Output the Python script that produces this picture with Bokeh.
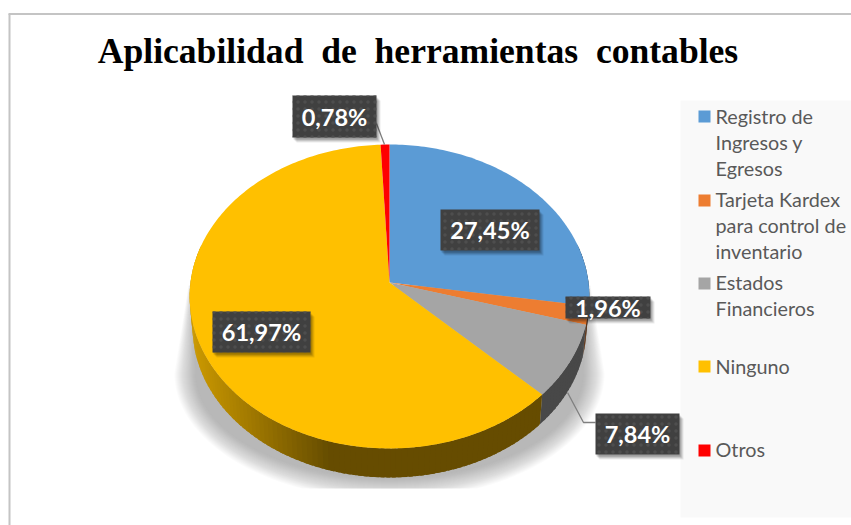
import numpy as np
from bokeh.plotting import figure
from bokeh.models import Range1d
from bokeh.core.properties import value
from bokeh.embed import file_html
from bokeh.resources import INLINE

title = "Aplicabilidad\u00a0 de\u00a0 herramientas\u00a0 contables"
categories = ["Registro de Ingresos y Egresos", "Tarjeta Kardex para control de inventario",
              "Estados Financieros", "Ninguno", "Otros"]
values = [27.45, 1.96, 7.84, 61.97, 0.78]
colors = ["#5B9BD5", "#ED7D31", "#A5A5A5", "#FFC000", "#FF0000"]
legend_lines = [["Registro de", "Ingresos y", "Egresos"],
                ["Tarjeta Kardex", "para control de", "inventario"],
                ["Estados", "Financieros"], ["Ninguno"], ["Otros"]]

W, H = 851, 525
p = figure(width=W, height=H, x_range=Range1d(0, W), y_range=Range1d(H, 0),
           toolbar_location=None, output_backend="svg", min_border=0,
           background_fill_color="white", border_fill_color="white", outline_line_color=None)
p.axis.visible = False
p.grid.visible = False

# page frame
p.segment([9, 8], [525, 13.5], [9, 851], [13.5, 13.5], line_color="#c4c4c4", line_width=2)
p.patch([680, 851, 851, 680], [100, 100, 517, 517], fill_color="#F9F9F9", line_color=None)

# tilted-disc projection
CX, CY, A, B, K = 389.0, 282.0, 199.0, 150.7, 0.092
DEPTH, LOW = 31.5, 0.985

def proj(theta_deg, scale=1.0, dy=0.0):
    t = np.radians(theta_deg)
    u, v = np.sin(t), -np.cos(t)
    d = 1 - K * v
    return CX + scale * A * u / d, CY + dy + scale * B * v / d

# soft shadow
for g in range(0, 22):
    th = np.linspace(180, 0, 80)
    rx, ry = 215 - g * 1.0, 126 - g * 1.0
    ex = 389 + rx * np.cos(np.radians(th))
    ey = 373 + ry * np.sin(np.radians(th))
    ey = np.minimum(ey, 488)
    sx = np.r_[188 + g * 0.25, ex, 590 - g * 0.25]
    sy = np.r_[285, ey, 285]
    p.patch(sx, sy, fill_color="#808080", fill_alpha=0.03, line_color=None)

# side wall + top faces
edges = np.r_[0, np.cumsum(values)] / 100 * 360

def shade(hexcol, f):
    r, g, b = [int(hexcol[i:i + 2], 16) for i in (1, 3, 5)]
    return "#%02x%02x%02x" % (int(r * f), int(g * f), int(b * f))

wx, wy, wc = [], [], []
for i, col in enumerate(colors):
    steps = max(2, int((edges[i + 1] - edges[i]) / 1.5) + 1)
    ths = np.linspace(edges[i], edges[i + 1], steps)
    for n, (t0, t1) in enumerate(zip(ths[:-1], ths[1:])):
        if np.cos(np.radians((t0 + t1) / 2)) > 0.25:
            continue
        mid = (proj(t0)[0] + proj(t1)[0]) / 2
        if n > 0:
            t0 = t0 - 1.0  # overlap the previous strip so no seam shows
        x0, y0 = proj(t0); x1, y1 = proj(t1)
        x2, y2 = proj(t1, LOW, DEPTH); x3, y3 = proj(t0, LOW, DEPTH)
        if col == "#FFC000":
            f = 0.8 - 0.4 * np.clip((mid - 190) / 135, 0, 1)
        else:
            f = 0.40 if col != "#A5A5A5" else 0.44
        c = shade(col, f)
        wx.append([x0, x1, x2, x3]); wy.append([y0, y1, y2, y3]); wc.append(c)
p.patches(wx, wy, fill_color=wc, line_color=None)

for i, col in enumerate(colors):
    ths = np.linspace(edges[i], edges[i + 1], max(3, int(edges[i + 1] - edges[i]) + 2))
    x, y = proj(ths)
    p.patch(np.r_[CX, x], np.r_[CY, y], fill_color=col, line_color=None)

# leader lines
p.line([376, 384], [123, 144], line_color="#7f7f7f", line_width=1.3)
p.line([567, 583, 595], [392, 422, 422], line_color="#7f7f7f", line_width=1.3)

# data labels
label_text = [f"{v:.2f}%".replace(".", ",") for v in values]
label_boxes = [(440, 539, 209, 250), (565, 650, 296, 318), (595, 679, 413, 454),
               (212, 310, 311, 352), (292, 376, 95, 137)]
for (x0, x1, y0, y1), t in zip(label_boxes, label_text):
    for off, al in ((5, 0.08), (4, 0.10), (3, 0.12), (2, 0.14)):
        p.quad(left=x0 + off - 1, right=x1 + off - 1, top=y0 + off, bottom=y1 + off,
               fill_color="#000000", fill_alpha=al, line_color=None)
    p.quad(left=x0, right=x1, top=y0, bottom=y1, fill_color="#404040", line_color=None,
           hatch_pattern="dot", hatch_color="#4e4e4e", hatch_scale=7, hatch_alpha=1.0)
    p.text([(x0 + x1) / 2], [(y0 + y1) / 2], text=[t], text_color="white",
           text_font=value("Lato"), text_font_style="bold", text_font_size="23.5px",
           text_align="center", text_baseline="middle")

# legend
box_y = [116, 200, 283, 366, 450]
line_y = [[115, 141, 167], [198, 224, 250], [281, 307], [365], [448]]
for col, by, lines, ys in zip(colors, box_y, legend_lines, line_y):
    p.quad(left=698, right=710, top=by - 6, bottom=by + 6, fill_color=col, line_color=None)
    p.text([715] * len(lines), ys, text=lines, text_color="#595959",
           text_font=value("Lato"), text_font_size="19.8px",
           text_align="left", text_baseline="middle")

p.text([417.5], [50], text=[title], text_color="#000000", text_font=value("Liberation Serif"),
       text_font_style="bold", text_font_size="35.6px", text_align="center", text_baseline="middle")

open("out.html", "w").write(file_html(p, INLINE))
